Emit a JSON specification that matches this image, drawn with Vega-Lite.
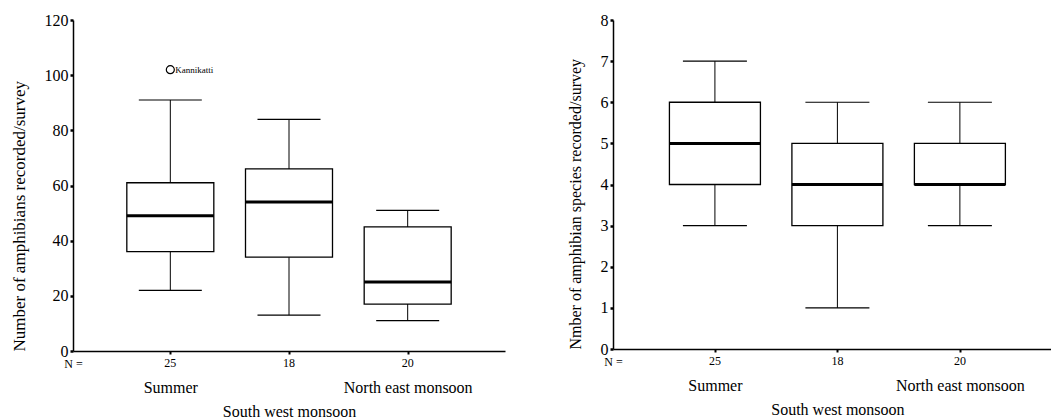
{
  "$schema": "https://vega.github.io/schema/vega-lite/v6.json",
  "background": "white",
  "padding": {"left": 10, "top": 12, "right": 0, "bottom": 0},
  "config": {
    "view": {"stroke": null},
    "font": "Liberation Serif, serif",
    "concat": {"spacing": 62},
    "text": {"font": "Liberation Serif, serif"},
    "axis": {
      "grid": false,
      "domainColor": "#000",
      "domainWidth": 1.5,
      "tickColor": "#000",
      "labelColor": "#000",
      "titleColor": "#000",
      "labelFont": "Liberation Serif, serif",
      "titleFont": "Liberation Serif, serif",
      "titleFontWeight": "normal"
    }
  },
  "datasets": {
    "abundance": [
      {"season": "Summer", "n": 25, "lower": 22, "q1": 36, "median": 49, "q3": 61, "upper": 91},
      {"season": "South west monsoon", "n": 18, "lower": 13, "q1": 34, "median": 54, "q3": 66, "upper": 84},
      {"season": "North east monsoon", "n": 20, "lower": 11, "q1": 17, "median": 25, "q3": 45, "upper": 51}
    ],
    "outliers": [
      {"season": "Summer", "value": 102, "site": "Kannikatti"}
    ],
    "richness": [
      {"season": "Summer", "n": 25, "lower": 3, "q1": 4, "median": 5, "q3": 6, "upper": 7},
      {"season": "South west monsoon", "n": 18, "lower": 1, "q1": 3, "median": 4, "q3": 5, "upper": 6},
      {"season": "North east monsoon", "n": 20, "lower": 3, "q1": 4, "median": 4, "q3": 5, "upper": 6}
    ]
  },
  "hconcat": [
    {
      "width": 432,
      "height": 331,
      "data": {"name": "abundance"},
      "encoding": {
        "x": {
          "field": "season",
          "type": "nominal",
          "sort": ["Summer", "South west monsoon", "North east monsoon"],
          "scale": {"type": "point", "padding": 0.82, "align": 0.5},
          "axis": {
            "title": "N =",
            "titleFontSize": 12,
            "titleX": 0,
            "titleY": 12,
            "titleAlign": "center",
            "titleBaseline": "middle",
            "labelExpr": "datum.value == 'South west monsoon' ? ['', datum.value] : datum.value",
            "labelFontSize": 16,
            "labelAngle": 0,
            "labelBaseline": "top",
            "labelLineHeight": 24,
            "labelPadding": 25,
            "labelLimit": 0,
            "tickSize": 3,
            "tickWidth": 2
          }
        }
      },
      "layer": [
        {
          "mark": {"type": "rule", "color": "#000", "strokeWidth": 1},
          "encoding": {
            "y": {
              "field": "lower",
              "type": "quantitative",
              "scale": {"domain": [0, 120], "nice": false},
              "axis": {
                "title": "Number of amphibians recorded/survey",
                "values": [0, 20, 40, 60, 80, 100, 120],
                "tickSize": 3,
                "tickWidth": 2.5,
                "labelFontSize": 16,
                "labelPadding": 2,
                "titleFontSize": 17,
                "titleAnchor": "start",
                "titlePadding": 16
              }
            },
            "y2": {"field": "upper"}
          }
        },
        {
          "mark": {"type": "bar", "fill": "white", "stroke": "#000", "strokeWidth": 1.3, "size": 87},
          "encoding": {
            "y": {"field": "q1", "type": "quantitative"},
            "y2": {"field": "q3"}
          }
        },
        {
          "mark": {"type": "tick", "color": "#000", "size": 87, "thickness": 3, "opacity": 1},
          "encoding": {"y": {"field": "median", "type": "quantitative"}}
        },
        {
          "mark": {"type": "tick", "color": "#000", "size": 63, "thickness": 1.2, "opacity": 1},
          "encoding": {"y": {"field": "lower", "type": "quantitative"}}
        },
        {
          "mark": {"type": "tick", "color": "#000", "size": 63, "thickness": 1.2, "opacity": 1},
          "encoding": {"y": {"field": "upper", "type": "quantitative"}}
        },
        {
          "mark": {"type": "text", "fontSize": 12, "dy": 12, "baseline": "middle", "color": "#000"},
          "encoding": {
            "y": {"datum": 0, "type": "quantitative"},
            "text": {"field": "n", "type": "nominal"}
          }
        },
        {
          "data": {"name": "outliers"},
          "mark": {"type": "point", "shape": "circle", "size": 64, "filled": false, "stroke": "#000", "strokeWidth": 1.2, "opacity": 1},
          "encoding": {"y": {"field": "value", "type": "quantitative"}}
        },
        {
          "data": {"name": "outliers"},
          "mark": {"type": "text", "fontSize": 9, "align": "left", "baseline": "middle", "dx": 5, "color": "#000"},
          "encoding": {
            "y": {"field": "value", "type": "quantitative"},
            "text": {"field": "site", "type": "nominal"}
          }
        }
      ]
    },
    {
      "width": 438,
      "height": 329,
      "data": {"name": "richness"},
      "encoding": {
        "x": {
          "field": "season",
          "type": "nominal",
          "sort": ["Summer", "South west monsoon", "North east monsoon"],
          "scale": {"type": "point", "padding": 0.788, "align": 0.528},
          "axis": {
            "title": "N =",
            "titleFontSize": 12,
            "titleX": 0,
            "titleY": 12,
            "titleAlign": "center",
            "titleBaseline": "middle",
            "labelExpr": "datum.value == 'South west monsoon' ? ['', datum.value] : datum.value",
            "labelFontSize": 16,
            "labelAngle": 0,
            "labelBaseline": "top",
            "labelLineHeight": 24,
            "labelPadding": 25,
            "labelLimit": 0,
            "tickSize": 3,
            "tickWidth": 2
          }
        }
      },
      "layer": [
        {
          "mark": {"type": "rule", "color": "#000", "strokeWidth": 1},
          "encoding": {
            "y": {
              "field": "lower",
              "type": "quantitative",
              "scale": {"domain": [0, 8], "nice": false},
              "axis": {
                "title": "Nmber of amphibian species recorded/survey",
                "values": [0, 1, 2, 3, 4, 5, 6, 7, 8],
                "tickSize": 3,
                "tickWidth": 2.5,
                "labelFontSize": 16,
                "labelPadding": 2,
                "titleFontSize": 16,
                "titleAnchor": "start",
                "titlePadding": 17
              }
            },
            "y2": {"field": "upper"}
          }
        },
        {
          "mark": {"type": "bar", "fill": "white", "stroke": "#000", "strokeWidth": 1.3, "size": 91},
          "encoding": {
            "y": {"field": "q1", "type": "quantitative"},
            "y2": {"field": "q3"}
          }
        },
        {
          "mark": {"type": "tick", "color": "#000", "size": 91, "thickness": 3, "opacity": 1},
          "encoding": {"y": {"field": "median", "type": "quantitative"}}
        },
        {
          "mark": {"type": "tick", "color": "#000", "size": 64, "thickness": 1.2, "opacity": 1},
          "encoding": {"y": {"field": "lower", "type": "quantitative"}}
        },
        {
          "mark": {"type": "tick", "color": "#000", "size": 64, "thickness": 1.2, "opacity": 1},
          "encoding": {"y": {"field": "upper", "type": "quantitative"}}
        },
        {
          "mark": {"type": "text", "fontSize": 12, "dy": 12, "baseline": "middle", "color": "#000"},
          "encoding": {
            "y": {"datum": 0, "type": "quantitative"},
            "text": {"field": "n", "type": "nominal"}
          }
        }
      ]
    }
  ]
}
